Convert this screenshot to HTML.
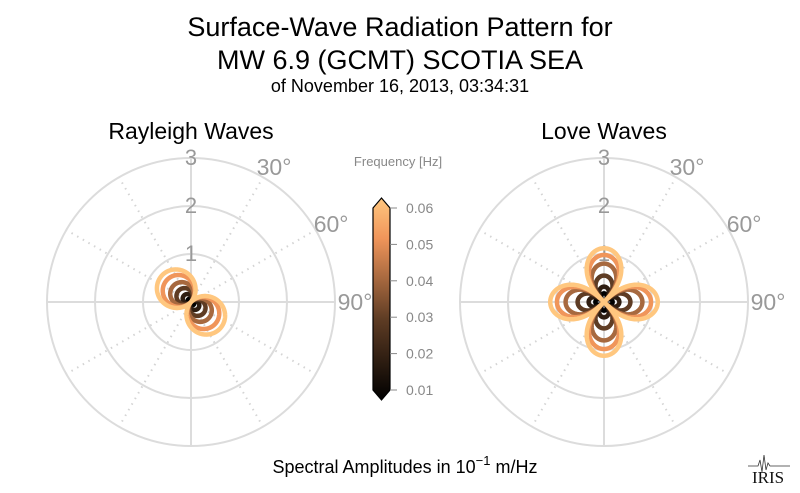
<!DOCTYPE html>
<html><head><meta charset="utf-8"><style>
html,body{margin:0;padding:0;background:#fff;width:800px;height:493px;overflow:hidden}
svg{font-family:"Liberation Sans",sans-serif}
</style></head><body>
<svg id="chart" width="800" height="493" viewBox="0 0 800 493" xmlns="http://www.w3.org/2000/svg">
<defs>
<linearGradient id="cmap" x1="0" y1="1" x2="0" y2="0">
<stop offset="0" stop-color="#000000"/><stop offset="0.4" stop-color="#5e3c24"/><stop offset="0.8" stop-color="#f0955a"/><stop offset="1" stop-color="#ffc77f"/>
</linearGradient>
</defs>
<text x="400" y="36" font-size="27" text-anchor="middle" fill="#000">Surface-Wave Radiation Pattern for</text>
<text x="400" y="69" font-size="27" text-anchor="middle" fill="#000">MW 6.9 (GCMT) SCOTIA SEA</text>
<text x="400" y="92" font-size="18" text-anchor="middle" fill="#000">of November 16, 2013, 03:34:31</text>
<text x="191" y="139" font-size="23" text-anchor="middle">Rayleigh Waves</text>
<text x="604" y="139" font-size="23" text-anchor="middle">Love Waves</text>
<g id="left"></g>
<g id="right"></g>
<g id="cbar"></g>
<text x="405" y="473" font-size="18" text-anchor="middle">Spectral Amplitudes in 10<tspan dy="-8" font-size="13">−1</tspan><tspan dy="8"> m/Hz</tspan></text>
<g>
<path d="M748 466 L758 466 L760 460 L762 472 L764 455 L766 470 L768 463 L770 466 L790 466" stroke="#333" stroke-width="0.8" fill="none"/>
<text x="768" y="483" font-family="Liberation Serif,serif" font-size="17" text-anchor="middle" fill="#111">IRIS</text>
</g>
</svg>
<script>
const freqs=[0.01,0.02,0.03,0.04,0.05,0.06];
const rayleighAmp=[0.08,0.2,0.35,0.5,0.68,0.82];
const loveAmp=[0.18,0.32,0.55,0.8,0.98,1.12];
const rayleighAzimuth=312;
const loveAzimuth=0;
const radialTicks=[1,2,3];
const angleTicks=[30,60,90];
const cbarTicks=[0.01,0.02,0.03,0.04,0.05,0.06];
const NS='http://www.w3.org/2000/svg';
const R_UNIT=48;
function mk(tag,attrs,parent){const e=document.createElementNS(NS,tag);for(const k in attrs)e.setAttribute(k,attrs[k]);parent.appendChild(e);return e;}
function lerp(a,b,t){return a+(b-a)*t}
const stops=[[0,[0,0,0]],[0.4,[94,60,36]],[0.8,[240,149,90]],[1,[255,199,127]]];
function color(f){const t=(f-0.01)/0.05;for(let i=1;i<stops.length;i++){if(t<=stops[i][0]){const s=(t-stops[i-1][0])/(stops[i][0]-stops[i-1][0]);const c=stops[i-1][1].map((v,j)=>Math.round(lerp(v,stops[i][1][j],s)));return `rgb(${c})`;}}return 'rgb(255,199,127)';}
function pt(cx,cy,r,deg){const a=deg*Math.PI/180;return [cx+r*R_UNIT*Math.sin(a),cy-r*R_UNIT*Math.cos(a)];}
function grid(g,cx,cy,name){
  for(let a=0;a<360;a+=30){const p=pt(cx,cy,3,a);const solid=a%90===0;
    const l=mk('line',{x1:cx,y1:cy,x2:p[0],y2:p[1],stroke:solid?'#dcdcdc':'#d4d4d4','stroke-width':2,'stroke-dasharray':solid?'none':'1.5 5'},g);
    
    }
  radialTicks.forEach(r=>{const c=mk('circle',{cx:cx,cy:cy,r:r*R_UNIT,fill:'none',stroke:'#dcdcdc','stroke-width':2},g);
    
    
    const t=mk('text',{x:cx,y:cy-r*R_UNIT+7,'font-size':22,'text-anchor':'middle',fill:'#999'},g);t.textContent=r;
    
    });
  angleTicks.forEach(a=>{const p=pt(cx,cy,3.25,a);const t=mk('text',{x:p[0]+(a===90?8:5),y:p[1]+8,'font-size':23,'text-anchor':'middle',fill:'#999'},g);t.textContent=a+'°';
    
    });
}
function pattern(g,cx,cy,amps,az,lobes,pw,name){
  amps.forEach((A,i)=>{let d='';for(let k=0;k<=720;k++){const th=k/2;const v=Math.pow(Math.abs(Math.cos(lobes/2*(th-az)*Math.PI/180)),pw)*A;const p=pt(cx,cy,v,th);d+=(k?'L':'M')+p[0].toFixed(2)+' '+p[1].toFixed(2);}
    const path=mk('path',{d:d+'Z',fill:'none',stroke:color(freqs[i]),'stroke-width':4.5,'stroke-linejoin':'round'},g);
    
    });
}
const L=document.getElementById('left'),Rg=document.getElementById('right');
grid(L,191,302,'rayleigh');grid(Rg,604,302,'love');
pattern(L,191,302,rayleighAmp,rayleighAzimuth,2,1.1,'rayleigh');
pattern(Rg,604,302,loveAmp,loveAzimuth,4,0.65,'love');
const C=document.getElementById('cbar');
const cx0=373,cx1=390,yTop=208,yBot=390;
function fy(f){return yBot-(f-0.01)/0.05*(yBot-yTop);}
const body=mk('path',{d:`M${cx0} ${yTop} L${(cx0+cx1)/2} ${yTop-10} L${cx1} ${yTop} L${cx1} ${yBot} L${(cx0+cx1)/2} ${yBot+10} L${cx0} ${yBot} Z`,fill:'url(#cmap)',stroke:'#000','stroke-width':1.2},C);


cbarTicks.forEach(f=>{const y=fy(f);mk('line',{x1:cx1,y1:y,x2:cx1+7,y2:y,stroke:'#888','stroke-width':1},C);
  const t=mk('text',{x:cx1+16,y:y+5,'font-size':14,fill:'#888'},C);t.textContent=f.toFixed(2);
  
  });
const ct=mk('text',{x:398,y:166,'font-size':13,'text-anchor':'middle',fill:'#888'},C);ct.textContent='Frequency [Hz]';


</script>
</body></html>
